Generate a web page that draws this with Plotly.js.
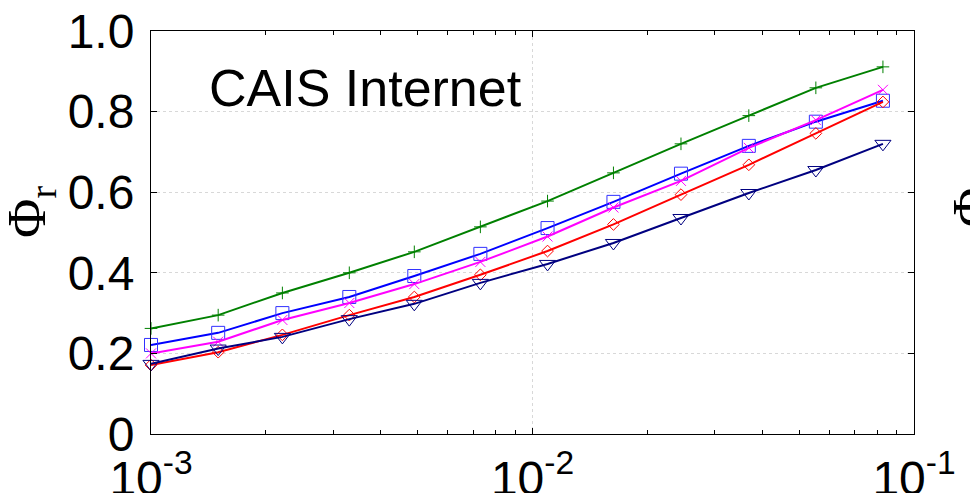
<!DOCTYPE html>
<html>
<head>
<meta charset="utf-8">
<script src="https://cdn.plot.ly/plotly-3.0.1.min.js"></script>
<style>
html,body{margin:0;padding:0;background:#fff;}
#chart{width:970px;height:493px;}
</style>
</head>
<body>
<div id="chart"></div>
<script>
// Data (x: log scale)
const xVals = [0.001, 0.0015, 0.00221, 0.00331, 0.0049, 0.0073, 0.01095, 0.0163, 0.0245, 0.0369, 0.0553, 0.0829];
const greenPlus   = [0.262, 0.295, 0.35, 0.40, 0.452, 0.514, 0.578, 0.648, 0.72, 0.79, 0.859, 0.911];
const blueSquare  = [0.221, 0.251, 0.30, 0.34, 0.392, 0.447, 0.511, 0.576, 0.646, 0.715, 0.775, 0.827];
const magentaX    = [0.20, 0.229, 0.283, 0.325, 0.372, 0.427, 0.49, 0.562, 0.628, 0.71, 0.779, 0.854];
const redDiamond  = [0.171, 0.203, 0.246, 0.295, 0.34, 0.395, 0.454, 0.52, 0.594, 0.668, 0.746, 0.824];
const navyTri     = [0.174, 0.212, 0.241, 0.285, 0.323, 0.375, 0.422, 0.474, 0.536, 0.598, 0.655, 0.72];

const xTickVals = [0.001, 0.01, 0.1];
const xTickText = ['10<sup>-3</sup>', '10<sup>-2</sup>', '10<sup>-1</sup>'];
const yTickVals = [0, 0.2, 0.4, 0.6, 0.8, 1.0];
const yTickText = ['0', '0.2', '0.4', '0.6', '0.8', '1.0'];

function series(y, color, symbol, size, mlColor) {
  return {
    x: xVals, y: y, type: 'scatter', mode: 'lines+markers',
    line: {color: color, width: 2},
    marker: {symbol: symbol, size: size, color: mlColor || color,
             line: {color: mlColor || color, width: 1}},
    cliponaxis: false, showlegend: false
  };
}

const data = [
  series(greenPlus, '#008000', 'cross-thin-open', 9),
  series(blueSquare, '#0000ff', 'square-open', 13, '#3030ff'),
  series(magentaX, '#ff00ff', 'x-thin-open', 10),
  series(redDiamond, '#ff0000', 'diamond-open', 9),
  series(navyTri, '#000080', 'triangle-down-open', 14)
];

const layout = {
  width: 970, height: 493,
  margin: {l: 151, r: 56, t: 31, b: 59},
  paper_bgcolor: '#fff', plot_bgcolor: '#fff',
  font: {family: 'Liberation Sans, Arial, sans-serif', color: '#000'},
  xaxis: {
    type: 'log', range: [-3, -1],
    tickvals: xTickVals, ticktext: xTickText,
    tickfont: {size: 48, family: 'Liberation Sans, Arial, sans-serif'},
    ticks: 'inside', ticklen: 6, tickcolor: '#000', tickwidth: 1,
    showline: true, linecolor: '#000', linewidth: 1, mirror: 'ticks',
    showgrid: true, gridcolor: '#d8d8d8', griddash: 'dot', gridwidth: 1,
    minor: {ticks: 'inside', ticklen: 4, tickcolor: '#000', dtick: 'D1', showgrid: false},
    zeroline: false, ticklabelstandoff: 2
  },
  yaxis: {
    range: [0, 1],
    tickvals: yTickVals, ticktext: yTickText,
    tickfont: {size: 48, family: 'Liberation Sans, Arial, sans-serif'},
    ticks: 'inside', ticklen: 6, tickcolor: '#000', tickwidth: 1,
    showline: true, linecolor: '#000', linewidth: 1, mirror: 'ticks',
    showgrid: true, gridcolor: '#d8d8d8', griddash: 'dot', gridwidth: 1,
    zeroline: false, ticklabelstandoff: 6
  },
  annotations: [
    {text: 'CAIS Internet', xref: 'paper', yref: 'paper',
     x: (207 - 151) / 763, y: (434 - 88) / 403, xanchor: 'left', yanchor: 'middle',
     showarrow: false, font: {size: 52, family: 'Liberation Sans, Arial, sans-serif', color: '#000'}},
    {text: 'Φ<sub>r</sub>', xref: 'paper', yref: 'paper',
     x: (30 - 151) / 763, y: (434 - 212) / 403, xanchor: 'center', yanchor: 'middle',
     textangle: -90, showarrow: false,
     font: {size: 54, family: 'Liberation Serif, Times New Roman, serif', color: '#000'}},
    {text: 'Φ', xref: 'paper', yref: 'paper',
     x: (972 - 151) / 763, y: (434 - 208) / 403, xanchor: 'center', yanchor: 'middle',
     textangle: -90, showarrow: false,
     font: {size: 54, family: 'Liberation Serif, Times New Roman, serif', color: '#000'}}
  ]
};

Plotly.newPlot('chart', data, layout, {staticPlot: true, displayModeBar: false});
</script>
</body>
</html>
